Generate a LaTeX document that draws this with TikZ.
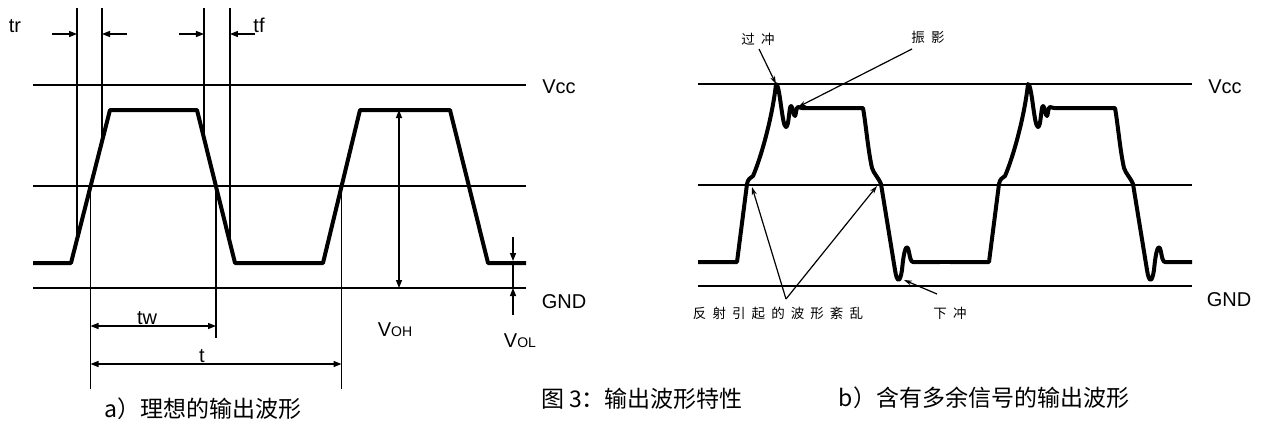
\documentclass[tikz,border=0pt]{standalone}
\usepackage{fontspec}
\setmainfont{Liberation Sans}
\newfontfamily\cjkfont{Noto Sans CJK SC}
\newfontfamily\cjknote[LetterSpace=45]{Noto Sans CJK SC}
\usetikzlibrary{arrows.meta}

\begin{document}
\begin{tikzpicture}[x=1pt,y=-1pt,>={Triangle[length=8pt,width=6pt]},
	levelline/.style={line width=1.1pt},
	pulse/.style={line width=4pt,line join=round},
	dimline/.style={line width=1.4pt},
	callout/.style={line width=1.2pt,-{Stealth[length=8pt,width=5pt]}},
	every node/.style={inner sep=0pt},
	lbl/.style={font=\fontsize{20}{22}\selectfont},
	remark/.style={font=\cjknote\fontsize{13.5}{15}\selectfont},
	caption/.style={font=\cjkfont\fontsize{23}{26}\selectfont}]
	\useasboundingbox (0,0) rectangle (1261,421);
	% a) ideal output waveform
	\draw[levelline] (33,85) -- (526,85);
	\draw[levelline] (33,186) -- (526,186);
	\draw[levelline] (33,288) -- (526,288);
	\draw[pulse] (33,263) -- (71,263) -- (110,110)
		coordinate[pos=0.154](r10) coordinate[pos=0.5](r50) coordinate[pos=0.795](r90)
		-- (197,110) -- (235,263)
		coordinate[pos=0.184](f10) coordinate[pos=0.5](f50) coordinate[pos=0.868](f90)
		-- (323,263) -- (360,110) coordinate[pos=0.5](r50b)
		-- (450,110) -- (488,263) -- (526,263);
	% edge markers
	\foreach \p in {r10,r90,f10,f90}
		\draw[levelline] (\p) -- (\p |- 0,8);
	\draw[levelline] (r50) -- (r50 |- 0,389);
	\draw[levelline] (f50) -- (f50 |- 0,338);
	\draw[levelline] (r50b) -- (r50b |- 0,389);
	\draw[dimline,->] (52,34) -- (r10 |- 0,34);
	\draw[dimline,->] (127,34) -- (r90 |- 0,34);
	\draw[dimline,->] (179,34) -- (f10 |- 0,34);
	\draw[dimline,->] (255,34) -- (f90 |- 0,34);
	\draw[dimline,<->] (r50 |- 0,326) -- (f50 |- 0,326);
	\draw[dimline,<->] (r50 |- 0,364) -- (r50b |- 0,364);
	\coordinate (ohtop) at (399,110);
	\coordinate (ohbot) at (399,288);
	\draw[dimline,<->] (ohtop) -- (ohbot);
	\coordinate (oltop) at (513,261);
	\coordinate (olbot) at (513,288);
	\draw[dimline,->] (513,237) -- (oltop);
	\draw[dimline,->] (513,315) -- (olbot);
	\draw[levelline] (oltop) -- (olbot);
	\node[lbl] (tr) at (15,26) {tr};
	\node[lbl] (tf) at (259,25) {tf};
	\node[lbl] (tw) at (147,318) {tw};
	\node[lbl] (tper) at (202,356) {t};
	\node[lbl] (voh) at (395,330) {V{\fontsize{14}{14}\selectfont OH}};
	\node[lbl] (vol) at (520,341) {V{\fontsize{14}{14}\selectfont OL}};
	\node[lbl] (vccA) at (559,87) {Vcc};
	\node[lbl] (gndA) at (564,302) {GND};
	\node[caption] (capA) at (203,409) {a）理想的输出波形};
	% b) output waveform with extra signals
	\draw[levelline] (698,84) -- (1192,84);
	\draw[levelline] (698,185) -- (1192,185);
	\draw[levelline] (698,286) -- (1192,286);
	\foreach \dx in {0,252}{
		\begin{scope}[xshift=\dx]
			\draw[pulse] (698,262) -- (737,262) -- (747,184)
				.. controls (748,179) and (750,178) .. (753,176)
				.. controls (760,160) and (772,120) .. (776,84) coordinate (peak\dx)
				.. controls (780,84) and (782,127) .. (786,127)
				.. controls (789,127) and (789,106) .. (791,106)
				.. controls (793,106) and (793,116) .. (795,116)
				.. controls (796,116) and (796,107) .. (798,107) coordinate (ring\dx)
				-- (802,108) -- (863,108)
				.. controls (866,125) and (868,150) .. (872,168)
				.. controls (874,174) and (878,177) .. (881,184)
				-- (895,270)
				.. controls (897,283) and (900,283) .. (902,270)
				.. controls (904,248) and (907,242) .. (909,252)
				.. controls (910,258) and (911,262) .. (913,262) -- (940,262);
		\end{scope}
	}
	\draw[pulse] (930,262) -- (960,262);
	\node[remark] (ovs) at (758,39) {过冲};
	\node[remark] (rng) at (928,37) {振影};
	\node[remark] (refl) at (778,313) {反射引起的波形紊乱};
	\node[remark] (uds) at (950,313) {下冲};
	\coordinate (reflsrc) at (786,299);
	\coordinate (reflA) at (752,187);
	\coordinate (reflB) at (877,186);
	\coordinate (udstip) at (904,280);
	\draw[callout] (759,49) -- (peak0);
	\draw[callout] (912,49) -- (ring0);
	\draw[callout] (reflsrc) -- (reflA);
	\draw[callout] (reflsrc) -- (reflB);
	\draw[callout] (937,294) -- (udstip);
	\node[lbl] (vccB) at (1225,87) {Vcc};
	\node[lbl] (gndB) at (1229,300) {GND};
	\node[caption] (capFig) at (642,399) {图 3：输出波形特性};
	\node[caption] (capB) at (984,398) {b）含有多余信号的输出波形};
\end{tikzpicture}
\end{document}
